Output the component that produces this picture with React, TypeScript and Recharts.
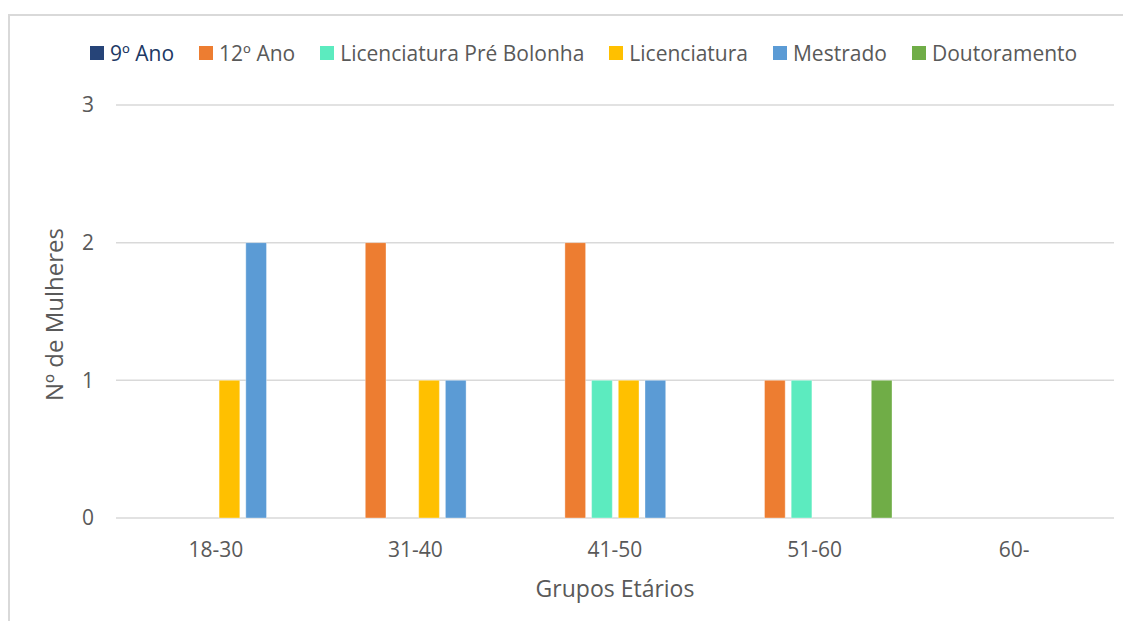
import React from "react";
import { BarChart, Bar, XAxis, YAxis, CartesianGrid, Label } from "recharts";

// Age groups on the category axis
const ageGroups = ["18-30", "31-40", "41-50", "51-60", "60-"];

// Number of women per education level, one value per age group
const nonoAno = [0, 0, 0, 0, 0];
const dozeAno = [0, 2, 2, 1, 0];
const licPreBolonha = [0, 0, 1, 1, 0];
const licenciatura = [1, 1, 1, 0, 0];
const mestrado = [2, 1, 1, 0, 0];
const doutoramento = [0, 0, 0, 1, 0];

const yTicks = [0, 1, 2, 3];

const series = [
  { key: "nono", name: "9º Ano", color: "#264478", values: nonoAno, text: "#203864" },
  { key: "doze", name: "12º Ano", color: "#ED7D31", values: dozeAno, text: "#595959" },
  { key: "lpb", name: "Licenciatura Pré Bolonha", color: "#5CEBBF", values: licPreBolonha, text: "#595959" },
  { key: "lic", name: "Licenciatura", color: "#FFC000", values: licenciatura, text: "#595959" },
  { key: "mest", name: "Mestrado", color: "#5B9BD5", values: mestrado, text: "#595959" },
  { key: "dout", name: "Doutoramento", color: "#70AD47", values: doutoramento, text: "#595959" },
];

const data = ageGroups.map((g, i) => {
  const row: Record<string, string | number> = { grupo: g };
  series.forEach((s) => {
    row[s.key] = s.values[i];
  });
  return row;
});

const FONT = "'Open Sans', sans-serif";
const GREY = "#595959";

const YTitle = (props: any) => {
  const vb = props.viewBox || { x: 0, y: 0, width: 0, height: 0 };
  const cx = vb.x + 53;
  const cy = vb.y + vb.height / 2 + 3;
  return (
    <text
      x={cx}
      y={cy}
      transform={`rotate(-90 ${cx} ${cy})`}
      textAnchor="middle"
      fill={GREY}
      fontSize={24}
      fontFamily={FONT}
    >
      Nº de Mulheres
    </text>
  );
};

export default function App() {
  return (
    <div style={{ paddingTop: 6 }}>
      <div
        style={{
          position: "relative",
          width: 1121,
          height: 605,
          borderTop: "2px solid #d9d9d9",
          borderLeft: "2px solid #d9d9d9",
          background: "#ffffff",
          fontFamily: FONT,
        }}
      >
        <div
          style={{
            position: "absolute",
            top: 23,
            left: 80,
            display: "flex",
            alignItems: "center",
            gap: 25,
            whiteSpace: "nowrap",
            fontSize: 21,
            lineHeight: "28px",
          }}
        >
          {series.map((s) => (
            <div key={s.key} style={{ display: "flex", alignItems: "center" }}>
              <span
                style={{
                  display: "inline-block",
                  width: 14,
                  height: 14,
                  background: s.color,
                  marginRight: 6,
                }}
              />
              <span style={{ color: s.text }}>{s.name}</span>
            </div>
          ))}
        </div>
        <BarChart
          width={1121}
          height={605}
          data={data}
          margin={{ top: 89, right: 17, bottom: 0, left: 0 }}
          barSize={20.7}
          barGap={6}
          style={{ fontFamily: FONT }}
        >
          <CartesianGrid vertical={false} stroke="#d9d9d9" strokeWidth={1.5} />
          <XAxis
            dataKey="grupo"
            height={103}
            axisLine={false}
            tickLine={false}
            tickSize={0}
            tickMargin={24}
            tick={{ fill: GREY, fontSize: 21, fontFamily: FONT }}
          >
            <Label
              value="Grupos Etários"
              position="insideBottom"
              offset={24}
              fill={GREY}
              fontSize={23}
              fontFamily={FONT}
            />
          </XAxis>
          <YAxis
            width={106}
            domain={[0, 3]}
            ticks={yTicks}
            allowDecimals={false}
            axisLine={false}
            tickLine={false}
            tickSize={0}
            tickMargin={22}
            tick={{ fill: GREY, fontSize: 21, fontFamily: FONT }}
          >
            <Label content={<YTitle />} />
          </YAxis>
          {series.map((s) => (
            <Bar
              key={s.key}
              dataKey={s.key}
              name={s.name}
              fill={s.color}
              stroke="#ffffff"
              strokeOpacity={0.35}
              strokeWidth={1}
              isAnimationActive={false}
            />
          ))}
        </BarChart>
      </div>
    </div>
  );
}
